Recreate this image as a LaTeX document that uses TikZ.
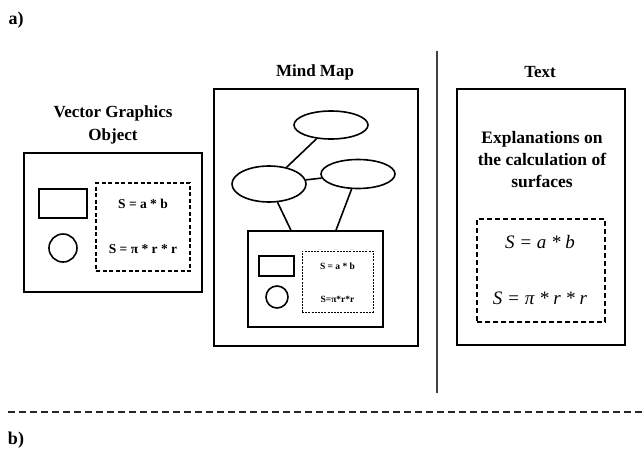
\documentclass[tikz,border=0pt]{standalone}
\usepackage{fontspec}
\setmainfont{Liberation Serif}
\usetikzlibrary{shapes.geometric,calc}
\begin{document}
\begin{tikzpicture}[x=1pt,y=-1pt,
  box/.style={draw,line width=1.6pt,inner sep=0pt,rectangle},
  dbox/.style={draw,line width=1.2pt,inner sep=0pt,rectangle,dash pattern=on 4pt off 2.5pt},
  sdbox/.style={draw,line width=0.9pt,inner sep=0pt,rectangle,dash pattern=on 2pt off 1.2pt},
  oval/.style={draw,line width=1.6pt,ellipse,inner sep=0pt},
  ttl/.style={font=\fontsize{17}{23}\selectfont\bfseries,align=center,inner sep=0pt},
  lbl/.style={font=\fontsize{18}{22}\selectfont\bfseries,inner sep=0pt},
  fml/.style={font=\fontsize{13.5}{14}\selectfont\bfseries,inner sep=0pt},
  sfml/.style={font=\fontsize{9.5}{10}\selectfont\bfseries,inner sep=0pt},
  ifml/.style={font=\fontsize{19}{22}\selectfont\itshape,inner sep=0pt},
  link/.style={line width=1.6pt}]
\useasboundingbox (0,0) rectangle (644,450);
% labels
\node[lbl] (la) at (16,20) {a)};
\node[lbl] (lb) at (16,440) {b)};
% Vector graphics object
\node[ttl] (vgt) at (113,124.5) {Vector Graphics\\Object};
\node[box,minimum width=178pt,minimum height=139pt] (vg) at (113,222.5) {};
\node[box,minimum width=48pt,minimum height=29pt] (vgr) at (63,203.5) {};
\node[draw,line width=1.6pt,circle,minimum size=28pt,inner sep=0pt] (vgc) at (63,248) {};
\node[dbox,minimum width=94pt,minimum height=88pt] (vgd) at (143,227) {};
\node[fml] (vgf1) at (143,204) {S = a * b};
\node[fml] (vgf2) at (143,249) {S = π * r * r};
% Mind map
\node[ttl] (mmt) at (315,72) {Mind Map};
\node[box,minimum width=204pt,minimum height=257pt] (mm) at (316,217.5) {};
\node[oval,minimum width=74pt,minimum height=28pt] (et) at (331,125) {};
\node[oval,minimum width=74pt,minimum height=36pt] (el) at (269,184) {};
\node[oval,minimum width=74pt,minimum height=29pt] (er) at (358,174) {};
\node[box,minimum width=135pt,minimum height=96pt] (mi) at (315.5,279) {};
\node[box,minimum width=35pt,minimum height=20pt] (mir) at (276.5,266) {};
\node[draw,line width=1.6pt,circle,minimum size=22pt,inner sep=0pt] (mic) at (277,297) {};
\node[sdbox,minimum width=71pt,minimum height=61pt] (mid) at (337.5,281.5) {};
\node[sfml] (mif1) at (337.5,266) {S = a * b};
\node[sfml] (mif2) at (337.5,299) {S=π*r*r};
\draw[link] (et) -- (el);
\draw[link] (el) -- (er);
\draw[link] (el.-65) -- ($(mi.north west)!0.32!(mi.north east)$);
\draw[link] (er.-113) -- ($(mi.north west)!0.65!(mi.north east)$);
% separator
\coordinate (vtop) at (437,51);
\coordinate (vbot) at (437,393);
\draw[line width=2pt,black!75] (vtop) -- (vbot);
\coordinate (hl) at (8,412);
\coordinate (hr) at (644,412);
\draw[line width=1.5pt,dash pattern=on 7pt off 4pt,black!85] (hl) -- (hr);
% Text
\node[ttl] (txt) at (540,72) {Text};
\node[box,minimum width=168pt,minimum height=256pt] (tb) at (541,217) {};
\node[ttl,font=\fontsize{17.5}{22}\selectfont\bfseries] (tex) at (542,160) {Explanations on\\the calculation of\\surfaces};
\node[dbox,minimum width=128pt,minimum height=103pt,dash pattern=on 5pt off 3pt] (td) at (541,270.5) {};
\node[ifml] (tf1) at (540,242) {S = a * b};
\node[ifml] (tf2) at (540,298) {S = π * r * r};
\end{tikzpicture}
\end{document}
